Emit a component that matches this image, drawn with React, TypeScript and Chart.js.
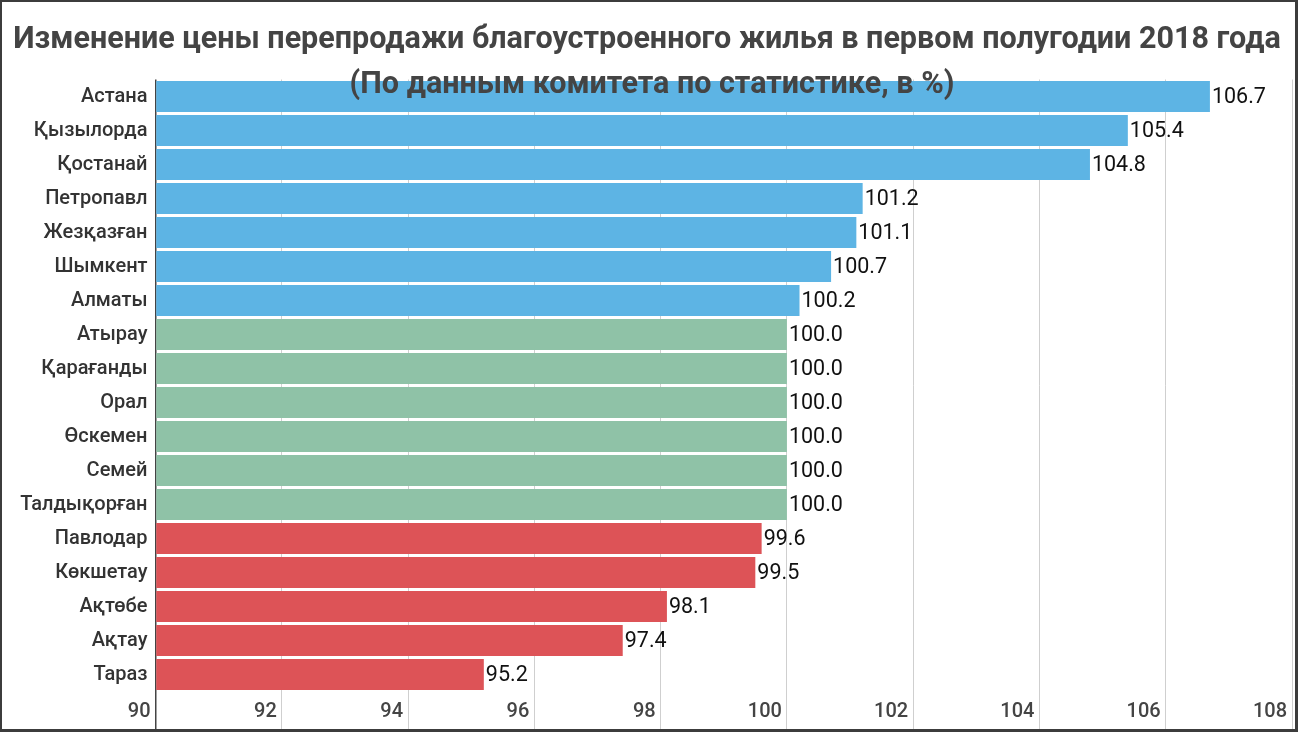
import React, { useEffect, useRef } from "react";
import { Chart, registerables } from "chart.js";

Chart.register(...registerables);

const title = "Изменение цены перепродажи благоустроенного жилья в первом полугодии 2018 года";
const subtitle = "(По данным комитета по статистике, в %)";

const cities = [
  "Астана", "Қызылорда", "Қостанай", "Петропавл", "Жезқазған", "Шымкент", "Алматы",
  "Атырау", "Қарағанды", "Орал", "Өскемен", "Семей", "Талдықорған",
  "Павлодар", "Көкшетау", "Ақтөбе", "Ақтау", "Тараз",
];
const values = [
  106.7, 105.4, 104.8, 101.2, 101.1, 100.7, 100.2,
  100.0, 100.0, 100.0, 100.0, 100.0, 100.0,
  99.6, 99.5, 98.1, 97.4, 95.2,
];
const xMin = 90;
const xMax = 108;
const xStep = 2;

const BLUE = "#5db4e4";
const GREEN = "#8fc2a7";
const RED = "#dd5357";

const colorFor = (v: number) => (v > 100 ? BLUE : v < 100 ? RED : GREEN);

const valueLabels = {
  id: "valueLabels",
  afterDatasetsDraw(chart: any) {
    const ctx = chart.ctx;
    const meta = chart.getDatasetMeta(0);
    ctx.save();
    ctx.font = "21.5px Roboto";
    ctx.fillStyle = "#111";
    ctx.textAlign = "left";
    ctx.textBaseline = "middle";
    meta.data.forEach((bar: any, i: number) => {
      ctx.fillText(values[i].toFixed(1), bar.x + 2, bar.y + 1);
    });
    ctx.restore();
  },
};

const overlaySubtitle = {
  id: "overlaySubtitle",
  afterDraw(chart: any) {
    const ctx = chart.ctx;
    ctx.save();
    ctx.font = "bold 30.5px Roboto";
    ctx.fillStyle = "#444";
    ctx.textAlign = "center";
    ctx.textBaseline = "middle";
    ctx.fillText(subtitle, 650, 83);
    ctx.restore();
  },
};

function BarChart() {
  const ref = useRef<HTMLCanvasElement | null>(null);
  useEffect(() => {
    if (!ref.current) return;
    const chart = new Chart(ref.current, {
      type: "bar",
      data: {
        labels: cities,
        datasets: [
          {
            data: values,
            backgroundColor: values.map(colorFor),
            borderWidth: 0,
            barPercentage: 0.91,
            categoryPercentage: 1,
            base: xMin,
          },
        ],
      },
      options: {
        indexAxis: "y",
        animation: false,
        responsive: false,
        maintainAspectRatio: false,
        layout: { padding: { left: 0, right: 3, top: 0, bottom: 0 } },
        plugins: {
          legend: { display: false },
          tooltip: { enabled: false },
          title: {
            display: true,
            text: title,
            color: "#444",
            font: { family: "Roboto", size: 30.5, weight: "bold", lineHeight: 1.2 },
            padding: { top: 20, bottom: 20.9 },
          },
        },
        scales: {
          x: {
            min: xMin,
            max: xMax,
            position: "bottom",
            border: { display: false },
            grid: {
              drawTicks: true,
              tickLength: 37.5,
              color: (c: any) => (c.tick && c.tick.value === xMin ? "#444" : "#cfcfcf"),
              lineWidth: (c: any) => (c.tick && c.tick.value === xMin ? 1.5 : 1),
            },
            ticks: {
              stepSize: xStep,
              color: "#444",
              font: { family: "Roboto", size: 20, weight: "500" },
              align: "end",
              labelOffset: -5,
              padding: -29.4,
              maxRotation: 0,
            },
            afterFit: (s: any) => {
              s.height = 37.5;
            },
          },
          y: {
            border: { display: false },
            grid: { display: false, drawTicks: false },
            ticks: {
              color: "#333",
              font: { family: "Roboto", size: 20, weight: "500" },
              padding: 8,
            },
            afterFit: (s: any) => {
              s.width = 153.5;
            },
          },
        },
      },
      plugins: [valueLabels, overlaySubtitle],
    });
    return () => chart.destroy();
  }, []);
  return <canvas ref={ref} width={1293} height={727} style={{ display: "block" }} />;
}

export default function App() {
  return (
    <div
      style={{
        position: "fixed",
        left: 0,
        top: 0,
        width: 1298,
        height: 732,
        boxSizing: "border-box",
        borderStyle: "solid",
        borderColor: "#3c3c3c",
        borderWidth: "2px 3px 3px 2px",
        background: "#fff",
      }}
    >
      <BarChart />
    </div>
  );
}
